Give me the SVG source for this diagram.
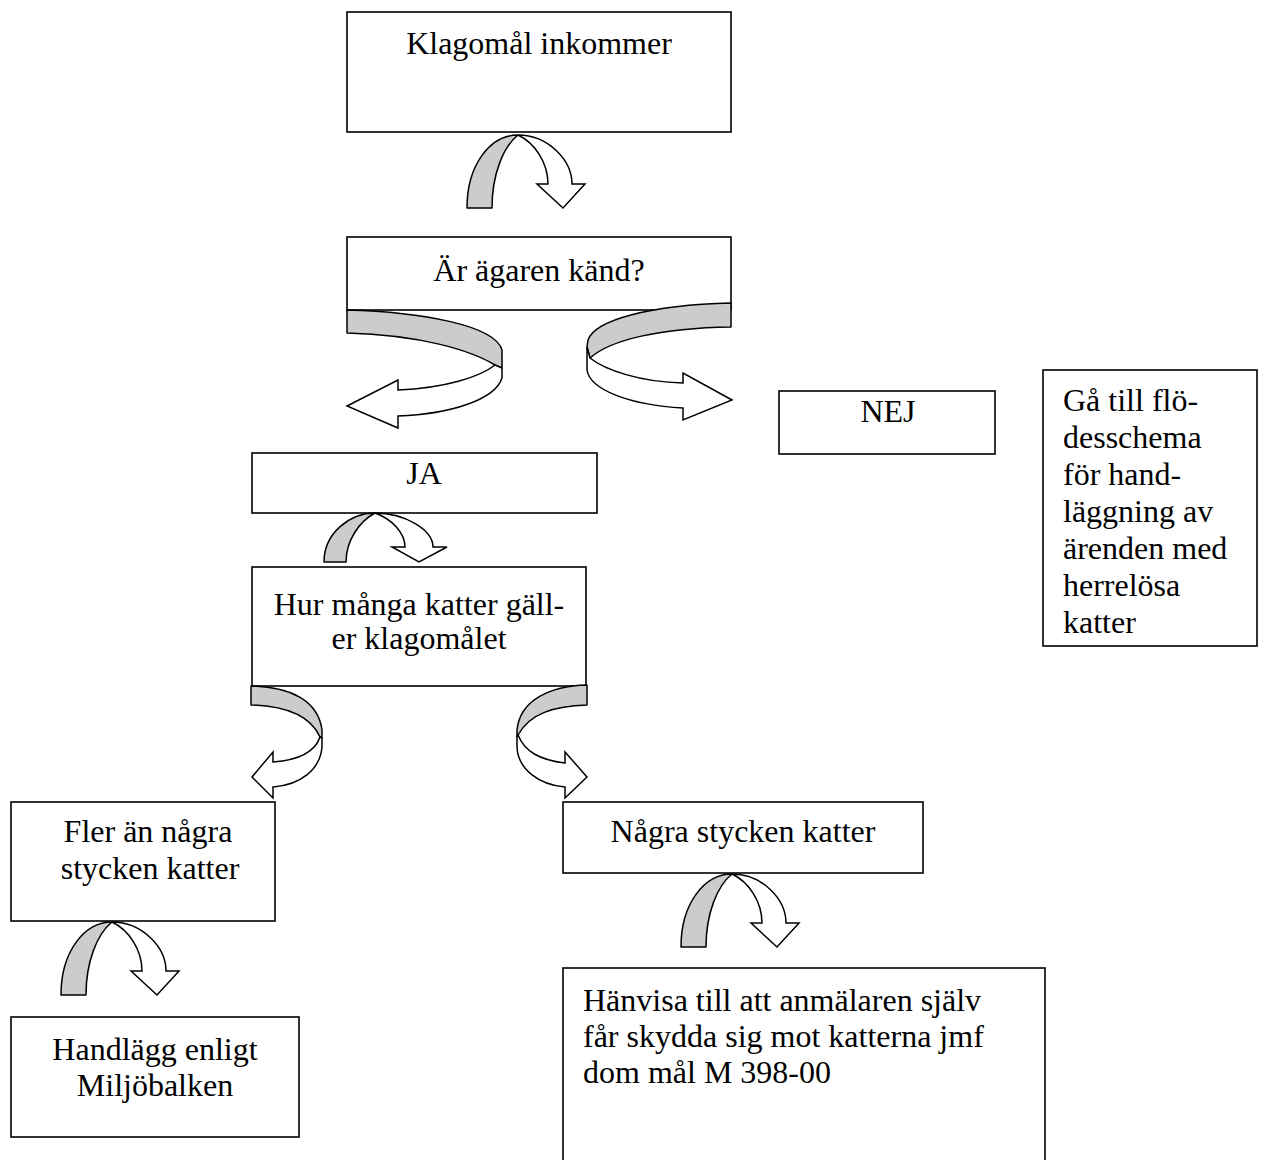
<svg xmlns="http://www.w3.org/2000/svg" xmlns:xlink="http://www.w3.org/1999/xlink" width="1264" height="1160" viewBox="0 0 1264 1160">
<style>
.box{fill:#fff;stroke:#000;stroke-width:1.6}
.t{font-family:"Liberation Serif","Times New Roman",serif;font-size:32px;fill:#000}
.c{text-anchor:middle}
.g{fill:#cccccc;stroke:#000;stroke-width:1.5;stroke-linejoin:round}
.w{fill:#fff;stroke:#000;stroke-width:1.5;stroke-linejoin:miter}
</style>
<defs>
<g id="upArrow">
<path class="g" d="M0,0 C-28,0 -51,30 -51,73 L-26,73 C-26,40 -15,12 0,0 Z"/>
<path class="w" d="M0,0 C30,0 54,25 54,49 L67,49 L45,73 L19,49 L30,49 C30,28 17,8 0,0 Z"/>
</g>
</defs>
<rect width="1264" height="1160" fill="#fff"/>

<g id="n1"><rect class="box" x="347" y="12" width="384" height="120"/><text class="t c" x="539" y="54">Klagomål inkommer</text></g>
<g id="n2"><rect class="box" x="347" y="237" width="384" height="73"/><text class="t c" x="539" y="281">Är ägaren känd?</text></g>
<g id="n3"><rect class="box" x="779" y="391" width="216" height="63"/><text class="t c" x="888" y="422">NEJ</text></g>
<g id="n4"><rect class="box" x="1043" y="370" width="214" height="276"/>
<text class="t" x="1063" y="411">Gå till flö-</text>
<text class="t" x="1063" y="448">desschema</text>
<text class="t" x="1063" y="485">för hand-</text>
<text class="t" x="1063" y="522">läggning av</text>
<text class="t" x="1063" y="559">ärenden med</text>
<text class="t" x="1063" y="596">herrelösa</text>
<text class="t" x="1063" y="633">katter</text></g>
<g id="n5"><rect class="box" x="252" y="453" width="345" height="60"/><text class="t c" x="424" y="484">JA</text></g>
<g id="n6"><rect class="box" x="252" y="567" width="334" height="119"/><text class="t c" x="419" y="615">Hur många katter gäll-</text><text class="t c" x="419" y="649">er klagomålet</text></g>
<g id="n7"><rect class="box" x="11" y="802" width="264" height="119"/><text class="t c" x="148" y="842">Fler än några</text><text class="t c" x="150" y="879">stycken katter</text></g>
<g id="n8"><rect class="box" x="563" y="802" width="360" height="71"/><text class="t c" x="743" y="842">Några stycken katter</text></g>
<g id="n9"><rect class="box" x="11" y="1017" width="288" height="120"/><text class="t c" x="155" y="1060">Handlägg enligt</text><text class="t c" x="155" y="1096">Miljöbalken</text></g>
<g id="n10"><rect class="box" x="563" y="968" width="482" height="200"/>
<text class="t" x="583" y="1011">Hänvisa till att anmälaren själv</text>
<text class="t" x="583" y="1047">får skydda sig mot katterna jmf</text>
<text class="t" x="583" y="1083">dom mål M 398-00</text></g>

<g id="connectors">
<use xlink:href="#upArrow" href="#upArrow" transform="translate(518,135)"/>
<use xlink:href="#upArrow" href="#upArrow" transform="translate(112,922)"/>
<use xlink:href="#upArrow" href="#upArrow" transform="translate(732,874)"/>
<g id="a4">
<path class="g" d="M375,513 C350,513 324,533 324,562 L346,562 C346,540 360,521 375,513 Z"/>
<path class="w" d="M375,513 C405,513 433,530 433,547 L447,547 L419,562 L392,547 L405,547 C405,533 392,519 375,513 Z"/>
</g>
<g id="a2">
<path class="g" d="M347,310 C420,312 495,325 502,350 L502,368 L495,365 C470,350 420,335 347,333 Z"/>
<path class="w" d="M495,365 C480,377 445,388 398,390 L398,380 L347,406 L398,428 L398,416 C450,414 495,400 502,378 L502,368 Z"/>
</g>
<g id="a3">
<path class="g" d="M731,303 C650,305 595,320 588,340 L587,347 L590,358 C610,340 660,328 731,327 Z"/>
<path class="w" d="M590,358 C605,370 640,382 683,383 L683,373 L732,400 L683,420 L683,408 C630,405 590,390 587,370 L587,347 Z"/>
</g>
<g id="a5">
<path class="g" d="M251,686 C290,687 318,700 322,730 L322,738 L320,737 C310,715 285,706 251,705 Z"/>
<path class="w" d="M320,737 C315,752 300,760 273,762 L273,752 L252,777 L273,798 L273,787 C300,785 320,770 322,747 L322,738 Z"/>
</g>
<g id="a6">
<path class="g" d="M587,685 C550,686 520,700 517,730 L517,737 L518,735 C530,713 555,706 587,705 Z"/>
<path class="w" d="M518,735 C525,752 540,760 565,763 L565,752 L587,777 L565,798 L565,787 C540,785 518,770 517,747 L517,737 Z"/>
</g>
</g>
</svg>
